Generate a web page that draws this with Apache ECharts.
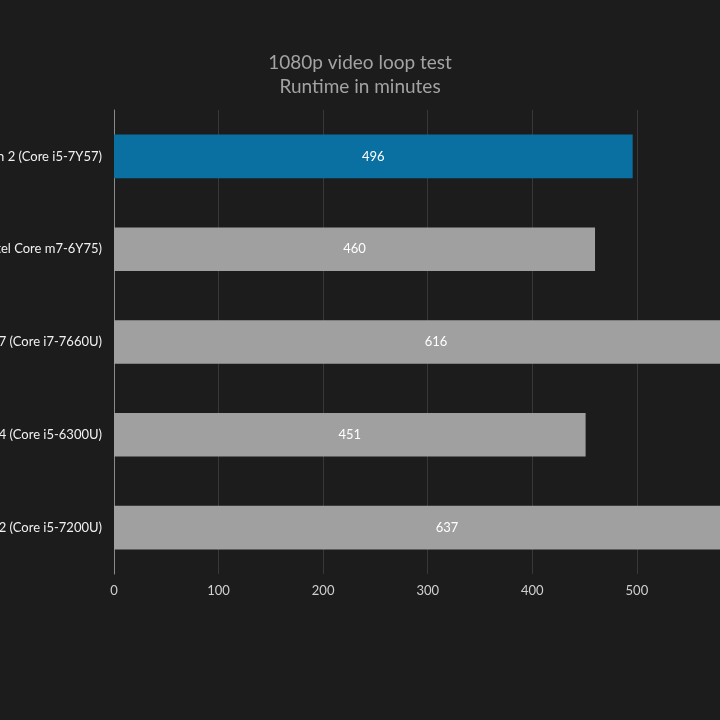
<!DOCTYPE html>
<html lang="en" style="height: 100%">

<head>
  <meta charset="utf-8">
</head>

<body style="height: 100%; margin: 0; background: #1c1c1c">
  <div id="container" style="width: 720px; height: 720px"></div>

  <script type="text/javascript" src="https://cdn.jsdelivr.net/npm/echarts@6/dist/echarts.min.js"></script>

  <script type="text/javascript">
    // chart data
    var laptops = [
      'ThinkPad X1 Tablet Gen 2 (Core i5-7Y57)',
      'ThinkPad X1 Tablet (Intel Core m7-6Y75)',
      'Surface Pro 2017 (Core i7-7660U)',
      'Surface Pro 4 (Core i5-6300U)',
      'Galaxy Book 12 (Core i5-7200U)'
    ];
    var minutes = [496, 460, 616, 451, 637];
    var highlightIndex = 0;

    var dom = document.getElementById('container');
    var myChart = echarts.init(dom, null, { renderer: 'canvas' });

    var barData = minutes.map(function (v, i) {
      return {
        value: v,
        itemStyle: { color: i === highlightIndex ? '#0a6fa1' : '#a0a0a0' }
      };
    });

    var option = {
      backgroundColor: '#1c1c1c',
      animation: false,
      textStyle: { fontFamily: 'Lato' },
      title: {
        text: '1080p video loop test\nRuntime in minutes',
        left: 'center',
        top: 46,
        textStyle: {
          color: '#a3a3a3',
          fontSize: 19,
          fontWeight: 'normal',
          lineHeight: 24,
          fontFamily: 'Lato'
        }
      },
      grid: {
        left: 114,
        right: -126,
        top: 110,
        bottom: 146,
        containLabel: false,
        outerBoundsMode: 'none'
      },
      xAxis: {
        type: 'value',
        min: 0,
        max: 700,
        interval: 100,
        axisLine: { show: false },
        axisTick: { show: false },
        axisLabel: { color: '#d0d0d0', fontSize: 13, margin: 10 },
        splitLine: { lineStyle: { color: '#383838', width: 1 } }
      },
      yAxis: {
        type: 'category',
        inverse: true,
        data: laptops,
        axisLine: { lineStyle: { color: '#8a8a8a', width: 1 } },
        axisTick: { show: false },
        axisLabel: { color: '#f0f0f0', fontSize: 13, margin: 12 }
      },
      series: [
        {
          type: 'bar',
          data: barData,
          barWidth: '47%',
          label: {
            show: true,
            position: 'inside',
            color: '#ffffff',
            fontSize: 13
          }
        }
      ]
    };

    myChart.setOption(option);
    window.addEventListener('resize', myChart.resize);
  </script>
</body>

</html>
